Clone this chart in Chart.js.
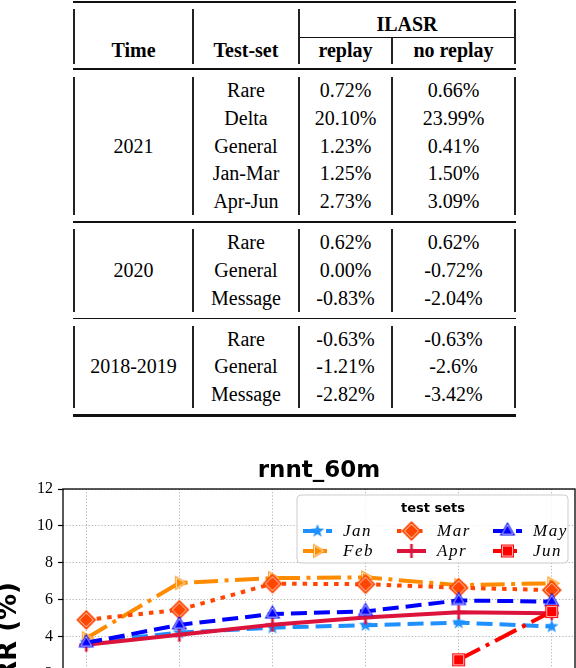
<!DOCTYPE html>
<html>
<head>
<meta charset="utf-8">
<script src="https://cdn.jsdelivr.net/npm/chart.js@4.4.1/dist/chart.umd.min.js"></script>
<style>
html, body { margin: 0; padding: 0; background: #fff; overflow: hidden; }
#wrap { position: relative; width: 576px; height: 668px; overflow: hidden; }
#tbl { position: absolute; left: 0; top: 0; width: 576px; height: 430px;
       font-family: "Liberation Serif", serif; font-size: 20px; color: #000; }
.rule { position: absolute; background: #111; }
.vl { position: absolute; width: 1.2px; background: #222; }
.cell { position: absolute; height: 28px; line-height: 28px; text-align: center; white-space: nowrap; }
.hd { font-weight: bold; }
#chartBox { position: absolute; left: 0; top: 440px; width: 576px; height: 430px; }
</style>
</head>
<body>
<div id="wrap">
  <div id="tbl"></div>
  <div id="chartBox"><canvas id="chart" width="576" height="430"></canvas></div>
</div>
<script>
// ---- table data ----
const headTop = "ILASR";
const headCols = ["Time", "Test-set", "replay", "no replay"];
const timeGroups = ["2021", "2020", "2018-2019"];
const testSets = [
    ["Rare", "Delta", "General", "Jan-Mar", "Apr-Jun"],
    ["Rare", "General", "Message"],
    ["Rare", "General", "Message"]
];
const replayVals = [
    ["0.72%", "20.10%", "1.23%", "1.25%", "2.73%"],
    ["0.62%", "0.00%", "-0.83%"],
    ["-0.63%", "-1.21%", "-2.82%"]
];
const noReplayVals = [
    ["0.66%", "23.99%", "0.41%", "1.50%", "3.09%"],
    ["0.62%", "-0.72%", "-2.04%"],
    ["-0.63%", "-2.6%", "-3.42%"]
];

// ---- chart data ----
const xLabels = ["Jan", "Feb", "Mar", "Apr", "May", "Jun"];
const janVals = [3.70, 4.23, 4.50, 4.63, 4.77, 4.56];
const febVals = [3.93, 6.92, 7.18, 7.22, 6.80, 6.90];
const marVals = [4.92, 5.47, 6.88, 6.85, 6.66, 6.53];
const aprVals = [3.58, 4.12, 4.66, 5.05, 5.33, 5.28];
const mayVals = [3.68, 4.65, 5.24, 5.38, 5.97, 5.91];
const junVals = [null, null, null, null, 2.76, 5.37];
const yTicks = [-4, -2, 0, 2, 4, 6, 8, 10, 12];
const yTitle = "WERR (%)";

// ---- table layout ----
const tbl = document.getElementById("tbl");
const colEdges = [74, 193, 299, 392, 515];
const rowStep = 27.75;

function addEl(cls, css, text) {
    const el = document.createElement("div");
    el.className = cls;
    Object.assign(el.style, css);
    if (text !== undefined) el.textContent = text;
    tbl.appendChild(el);
    return el;
}
function rule(y, h, x0, x1) {
    addEl("rule", { left: x0 + "px", top: y + "px", width: (x1 - x0) + "px", height: h + "px" });
}
function vline(x, y0, y1) {
    addEl("vl", { left: (x - 0.6) + "px", top: y0 + "px", height: (y1 - y0) + "px" });
}
function cell(text, c0, c1, yMid, bold) {
    addEl("cell" + (bold ? " hd" : ""), {
        left: colEdges[c0] + "px",
        width: (colEdges[c1] - colEdges[c0]) + "px",
        top: (yMid - 14) + "px"
    }, text);
}

// rules
rule(0.5, 2.5, 73, 516);
rule(68, 1.8, 73, 516);
rule(36.6, 1.1, 299, 516);

// header
[74, 193, 299, 515].forEach(x => vline(x, 9, 64));
vline(392, 38, 64);
cell(headTop, 2, 4, 24, true);
headCols.forEach((h, i) => cell(h, i, i + 1, 50, true));

// body blocks
let blockTop = 77;
timeGroups.forEach((g, b) => {
    const n = testSets[b].length;
    const bottom = blockTop + 13 + (n - 1) * rowStep + 14;
    colEdges.forEach(x => vline(x, blockTop, bottom));
    for (let i = 0; i < n; i++) {
        const y = blockTop + 13 + i * rowStep;
        cell(testSets[b][i], 1, 2, y);
        cell(replayVals[b][i], 2, 3, y);
        cell(noReplayVals[b][i], 3, 4, y);
    }
    cell(g, 0, 1, blockTop + 13 + (n - 1) * rowStep / 2);
    const last = b === timeGroups.length - 1;
    rule(bottom + 6, last ? 2.6 : 1.8, 73, 516);
    blockTop = bottom + 14;
});

// ---- markers ----
function makeMarker(kind, color, r) {
    const s = Math.ceil(r * 2 + 6);
    const c = document.createElement("canvas");
    c.width = s; c.height = s;
    const g = c.getContext("2d");
    g.translate(s / 2, s / 2);
    if (kind === "cross") {
        g.strokeStyle = color;
        g.lineWidth = 2.6;
        g.beginPath();
        g.moveTo(-r, 0); g.lineTo(r, 0);
        g.moveTo(0, -r); g.lineTo(0, r);
        g.stroke();
        return c;
    }
    const path = (k) => {
        const R = r * k;
        g.beginPath();
        if (kind === "star") {
            for (let i = 0; i < 10; i++) {
                const a = -Math.PI / 2 + i * Math.PI / 5;
                const rr = i % 2 === 0 ? R : R * 0.42;
                g.lineTo(Math.cos(a) * rr, Math.sin(a) * rr);
            }
        } else if (kind === "triRight") {
            g.moveTo(R, 0); g.lineTo(-R / 2, -R * 0.866); g.lineTo(-R / 2, R * 0.866);
        } else if (kind === "triUp") {
            g.moveTo(0, -R); g.lineTo(R * 0.866, R / 2); g.lineTo(-R * 0.866, R / 2);
        } else if (kind === "diamond") {
            g.moveTo(0, -R); g.lineTo(R, 0); g.lineTo(0, R); g.lineTo(-R, 0);
        } else if (kind === "square") {
            g.rect(-R, -R, 2 * R, 2 * R);
        }
        g.closePath();
    };
    path(1);
    g.fillStyle = color;
    g.fill();
    if (kind !== "star") {
        path(kind === "square" ? 0.78 : 0.7);
        g.strokeStyle = "rgba(255,255,255,0.85)";
        g.lineWidth = 0.9;
        g.stroke();
    }
    return c;
}

const seriesInfo = [
    { label: "Jan", data: janVals, color: "#1E90FF", dash: [16, 7], marker: "star", r: 7 },
    { label: "Feb", data: febVals, color: "#FF8C00", dash: [24, 6.5, 4, 6.5], marker: "triRight", r: 8.5 },
    { label: "Mar", data: marVals, color: "#FF4500", dash: [4.5, 6], marker: "diamond", r: 10 },
    { label: "Apr", data: aprVals, color: "#DC143C", dash: [], marker: "cross", r: 7 },
    { label: "May", data: mayVals, color: "#0000FF", dash: [16, 7], marker: "triUp", r: 9 },
    { label: "Jun", data: junVals, color: "#FF0000", dash: [24, 6.5, 4, 6.5], marker: "square", r: 6.5 }
];
seriesInfo.forEach(s => { s.img = makeMarker(s.marker, s.color, s.r); });

const datasets = seriesInfo.map((s, i) => ({
    label: s.label,
    data: s.data.map((v, k) => ({ x: k, y: v })),
    borderColor: s.color,
    backgroundColor: s.color,
    borderWidth: 4,
    borderDash: s.dash,
    borderCapStyle: "butt",
    borderJoinStyle: "round",
    pointStyle: s.img,
    pointRadius: 6,
    tension: 0,
    spanGaps: false,
    order: seriesInfo.length - 1 - i
}));

// frame around the plot (top/left/right spines) + rotated y label
const spines = {
    id: "spines",
    afterDatasetsDraw(chart) {
        const { ctx, chartArea: a } = chart;
        ctx.save();
        ctx.strokeStyle = "#000";
        ctx.lineWidth = 1.3;
        ctx.strokeRect(a.left, a.top, a.right - a.left, a.bottom - a.top);
        ctx.restore();

        // y label reads bottom to top, its end sits a fixed distance under the top spine
        ctx.save();
        ctx.translate(16, a.top + 93);
        ctx.rotate(-Math.PI / 2);
        ctx.fillStyle = "#000";
        ctx.font = "bold 26px 'DejaVu Sans'";
        ctx.textAlign = "right";
        ctx.textBaseline = "alphabetic";
        ctx.fillText(yTitle, 0, 0);
        ctx.restore();
    }
};

// legend: 3 columns, filled column by column
const legendBox = {
    id: "legendBox",
    afterDraw(chart) {
        const { ctx, chartArea: a } = chart;
        const w = 271, h = 68;
        const bx = a.right - 7 - w, by = a.top + 6;
        ctx.save();
        ctx.beginPath();
        ctx.roundRect(bx, by, w, h, 4);
        ctx.fillStyle = "rgba(255,255,255,0.85)";
        ctx.fill();
        ctx.strokeStyle = "#cccccc";
        ctx.lineWidth = 1;
        ctx.stroke();

        ctx.fillStyle = "#000";
        ctx.font = "bold 13px 'DejaVu Sans'";
        ctx.textAlign = "center";
        ctx.textBaseline = "middle";
        ctx.fillText("test sets", bx + 136, by + 14);

        const colX = [6, 100, 196];
        const rowY = [36, 56];
        seriesInfo.forEach((s, i) => {
            const x0 = bx + colX[Math.floor(i / 2)];
            const y = by + rowY[i % 2];
            ctx.save();
            ctx.strokeStyle = s.color;
            ctx.lineWidth = 4;
            ctx.lineCap = "butt";
            ctx.setLineDash(s.dash);
            ctx.beginPath();
            ctx.moveTo(x0, y);
            ctx.lineTo(x0 + 29, y);
            ctx.stroke();
            ctx.restore();
            const im = s.img;
            ctx.drawImage(im, x0 + 14.5 - im.width / 2, y - im.height / 2);
            ctx.fillStyle = "#000";
            ctx.font = "italic 17px 'Liberation Serif'";
            ctx.textAlign = "left";
            ctx.letterSpacing = "1.5px";
            ctx.fillText(s.label, x0 + 40, y + 1);
            ctx.letterSpacing = "0px";
        });
        ctx.restore();
    }
};

const gridOpts = { color: "#b0b0b0", lineWidth: 1, tickColor: "#000", tickLength: 5, tickWidth: 1.2 };
const tickFont = { family: "Liberation Serif", size: 16 };

new Chart(document.getElementById("chart"), {
    type: "line",
    data: { datasets },
    options: {
        responsive: false,
        animation: false,
        layout: { autoPadding: false, padding: { left: 0, right: 1, top: 0, bottom: 0 } },
        plugins: {
            legend: { display: false },
            tooltip: { enabled: false },
            title: {
                display: true,
                text: "rnnt_60m",
                fullSize: false,
                color: "#000",
                font: { family: "DejaVu Sans", size: 23, weight: "bold" },
                padding: { top: 17.6, bottom: 3.8 }
            }
        },
        scales: {
            x: {
                type: "linear",
                min: -0.25,
                max: 5.25,
                afterBuildTicks: s => { s.ticks = xLabels.map((_, i) => ({ value: i })); },
                afterFit: s => { s.height = 76; s.paddingLeft = 0; s.paddingRight = 0; },
                ticks: { callback: v => xLabels[v], font: tickFont, color: "#000", padding: 5, maxRotation: 0 },
                grid: gridOpts,
                border: { display: false, dash: [1.2, 2] }
            },
            y: {
                min: -4.5,
                max: 12,
                afterBuildTicks: s => { s.ticks = yTicks.map(v => ({ value: v })); },
                afterFit: s => { s.width = 63; },
                ticks: { font: tickFont, color: "#000", padding: 5 },
                grid: gridOpts,
                border: { display: false, dash: [1.2, 2] }
            }
        }
    },
    plugins: [spines, legendBox]
});
</script>
</body>
</html>
